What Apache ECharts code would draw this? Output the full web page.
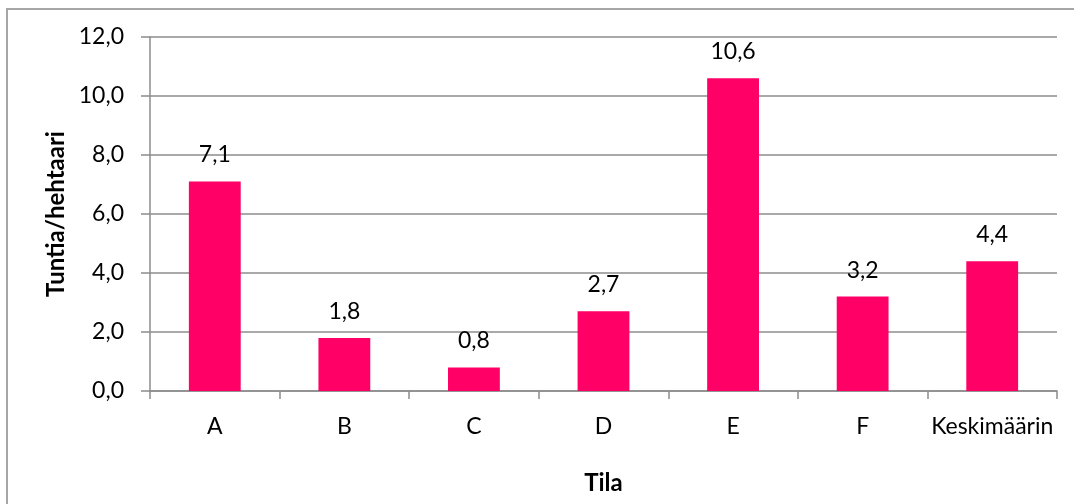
<!DOCTYPE html>
<html>
<head>
<meta charset="utf-8">
<script src="https://cdn.jsdelivr.net/npm/echarts@6/dist/echarts.min.js"></script>
<style>
  html, body { margin: 0; padding: 0; background: #fff; }
  #frame { position: absolute; left: 6px; top: 8px; width: 1100px; height: 520px; border: 2px solid #a6a6a6; box-sizing: border-box; }
  #chart { position: absolute; left: 0; top: 0; width: 1074px; height: 504px; }
</style>
</head>
<body>
<div id="frame"></div>
<div id="chart"></div>
<script>
// Työtunnit hehtaaria kohden tiloittain
const categories = ['A', 'B', 'C', 'D', 'E', 'F', 'Keskimäärin'];
const hoursPerHectare = [7.1, 1.8, 0.8, 2.7, 10.6, 3.2, 4.4];
const yTickLabels = ['0,0', '2,0', '4,0', '6,0', '8,0', '10,0', '12,0'];

const FONT = 'Lato, "Open Sans", sans-serif';
const fmt = v => v.toFixed(1).replace('.', ',');

const chart = echarts.init(document.getElementById('chart'), null, { renderer: 'canvas' });
chart.setOption({
  animation: false,
  backgroundColor: 'transparent',
  grid: { left: 150, right: 17, top: 37, bottom: 113, containLabel: false },
  xAxis: {
    type: 'category',
    data: categories,
    name: 'Tila',
    nameLocation: 'middle',
    nameGap: 80,
    nameTextStyle: { fontFamily: FONT, fontSize: 24, fontWeight: 'bold', color: '#000' },
    axisLine: { lineStyle: { color: '#8c8c8c', width: 1.5 } },
    axisTick: { show: true, interval: 0, length: 8, lineStyle: { color: '#8c8c8c', width: 1.5 } },
    axisLabel: { interval: 0, hideOverlap: false, fontFamily: FONT, fontSize: 23, color: '#000', margin: 24 },
    splitLine: { show: false }
  },
  yAxis: {
    type: 'value',
    min: 0,
    max: 12,
    interval: 2,
    name: 'Tuntia/hehtaari',
    nameLocation: 'middle',
    nameGap: 80,
    nameRotate: 90,
    nameTextStyle: { fontFamily: FONT, fontSize: 24, fontWeight: 'bold', color: '#000' },
    axisLine: { show: true, lineStyle: { color: '#8c8c8c', width: 1.5 } },
    axisTick: { show: true, inside: false, length: 9, lineStyle: { color: '#8c8c8c', width: 1.5 } },
    axisLabel: {
      fontFamily: FONT, fontSize: 23, color: '#000', margin: 26,
      formatter: v => yTickLabels[Math.round(v / 2)]
    },
    splitLine: { show: true, lineStyle: { color: '#8c8c8c', width: 1.5 } }
  },
  series: [{
    type: 'bar',
    data: hoursPerHectare,
    barWidth: '40%',
    itemStyle: { color: '#ff0066' },
    label: {
      show: true,
      position: 'top',
      distance: 15,
      fontFamily: FONT,
      fontSize: 23,
      color: '#000',
      formatter: p => fmt(p.value)
    }
  }]
});
</script>
</body>
</html>
